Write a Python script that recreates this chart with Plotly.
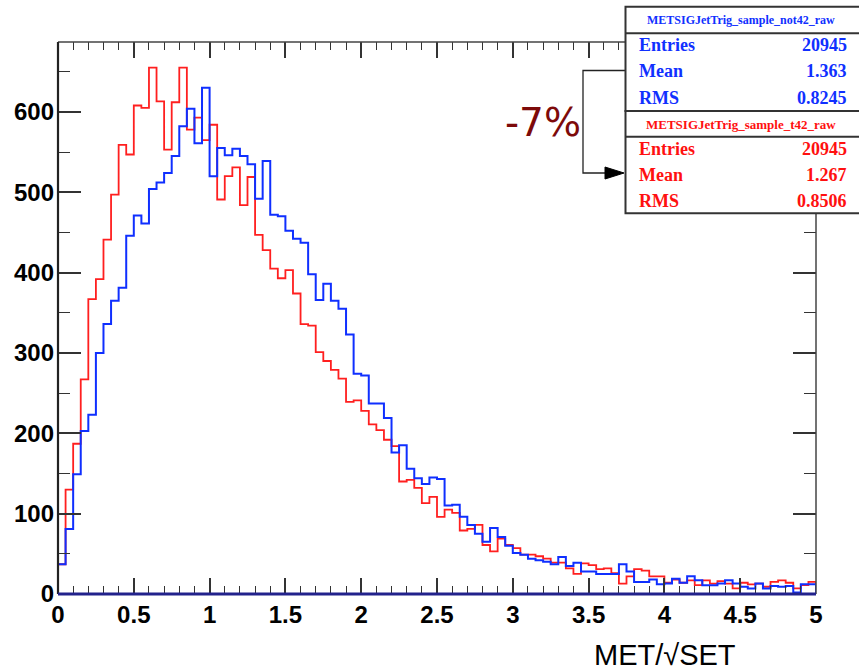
import numpy as np
import plotly.graph_objects as go

# MET/sqrt(SET) histograms, 100 bins from 0 to 5
x_min, x_max, n_bins = 0.0, 5.0, 100

counts_not42 = [
    37, 81, 149, 203, 223, 300, 336, 365, 381, 446,
    471, 461, 504, 512, 524, 545, 582, 604, 561, 630,
    520, 555, 546, 554, 545, 535, 492, 539, 472, 470,
    452, 442, 437, 398, 366, 386, 365, 355, 323, 274,
    272, 237, 237, 219, 176, 185, 156, 144, 137, 145,
    143, 110, 111, 96, 86, 75, 65, 82, 71, 60,
    51, 49, 44, 42, 40, 37, 46, 35, 39, 28,
    28, 25, 25, 25, 37, 28, 15, 15, 18, 12,
    13, 19, 14, 22, 17, 11, 11, 13, 17, 13,
    9, 7, 13, 7, 10, 9, 10, 2, 12, 12,
]

counts_t42 = [
    37, 130, 187, 267, 367, 392, 441, 497, 559, 547,
    608, 605, 655, 613, 553, 612, 655, 578, 593, 565,
    584, 491, 520, 531, 484, 519, 447, 428, 405, 393,
    403, 374, 336, 334, 301, 290, 279, 268, 239, 241,
    228, 211, 204, 192, 184, 140, 142, 132, 113, 121,
    96, 105, 101, 79, 81, 86, 61, 53, 69, 61,
    57, 49, 49, 47, 44, 39, 39, 32, 25, 38,
    36, 31, 32, 26, 13, 22, 31, 29, 22, 22,
    14, 18, 14, 17, 11, 17, 13, 16, 13, 7,
    14, 12, 13, 9, 15, 17, 14, 7, 11, 15,
]

# statistics boxes
names = ["METSIGJetTrig_sample_not42_raw", "METSIGJetTrig_sample_t42_raw"]
stat_labels = ["Entries", "Mean", "RMS"]
stats_not42 = ["20945", "1.363", "0.8245"]
stats_t42 = ["20945", "1.267", "0.8506"]
shift_text = "-7%"
x_title = "MET/\u221aSET"

y_top = 687

BLUE = "#0f2fff"
RED = "#ff1f1f"
TICK = "#333333"

edges = np.linspace(x_min, x_max, n_bins + 1)


def step_xy(counts):
    xs = [edges[0]] + list(edges[:-1]) + [edges[-1], edges[-1]]
    ys = [0] + list(counts) + [counts[-1], 0]
    return xs, ys


fig = go.Figure()
for counts, col, w in [(counts_t42, RED, 1.8), (counts_not42, BLUE, 2.0)]:
    xs, ys = step_xy(counts)
    fig.add_trace(go.Scatter(x=xs, y=ys, mode="lines", line=dict(color=col, width=w, shape="hv"),
                             showlegend=False, hoverinfo="skip"))
# mirrored axes (top / right ticks)
fig.add_trace(go.Scatter(x=[], y=[], xaxis="x2", yaxis="y2", showlegend=False))

L, R, T, B = 58, 816, 42, 594
W, H = 859, 671


def px(x):
    return (x - L) / (R - L)


def py(y):
    return (B - y) / (B - T)


tickfont = dict(family="Liberation Sans", size=24, color="black", weight="bold")
xcommon = dict(range=[x_min, x_max], ticks="inside", ticklen=16, tickwidth=1.5, tickcolor=TICK,
               dtick=0.5, tick0=0, showgrid=False, zeroline=False, showline=False,
               minor=dict(dtick=0.1, tick0=0, ticks="inside", ticklen=8, tickwidth=1.2, tickcolor=TICK,
                          showgrid=False))
ycommon = dict(range=[0, y_top], ticks="inside", ticklen=23, tickwidth=1.5, tickcolor=TICK,
               dtick=100, tick0=0, showgrid=False, zeroline=False, showline=False,
               minor=dict(dtick=50, tick0=0, ticks="inside", ticklen=12, tickwidth=1.2, tickcolor=TICK,
                          showgrid=False))

fig.update_layout(
    width=W, height=H,
    margin=dict(l=L, r=W - R, t=T, b=H - B, pad=0),
    paper_bgcolor="white", plot_bgcolor="white",
    xaxis=dict(**xcommon, tickfont=tickfont, ticklabelstandoff=4),
    yaxis=dict(**ycommon, tickfont=tickfont, ticklabelstandoff=3),
    xaxis2=dict(**xcommon, overlaying="x", side="top", anchor="y2", showticklabels=False),
    yaxis2=dict(**ycommon, overlaying="y", side="right", anchor="x2", showticklabels=False),
)

shapes = []
# frame
shapes.append(dict(type="line", xref="paper", yref="paper", x0=0, x1=1, y0=1, y1=1,
                   line=dict(color="#444444", width=1.5)))
shapes.append(dict(type="line", xref="paper", yref="paper", x0=1, x1=1, y0=0, y1=1,
                   line=dict(color="#444444", width=1.5)))
shapes.append(dict(type="line", xref="paper", yref="paper", x0=0, x1=0, y0=0, y1=1,
                   line=dict(color="#222222", width=2.2)))
shapes.append(dict(type="line", xref="paper", yref="paper", x0=0, x1=1, y0=0, y1=0,
                   line=dict(color="#22228c", width=3)))

# bracket with arrow between the two means
shapes.append(dict(type="path", xref="paper", yref="paper",
                   path=f"M {px(626)} {py(70.5)} L {px(583)} {py(70.5)} L {px(583)} {py(173)} L {px(608)} {py(173)}",
                   line=dict(color="#222222", width=1.3)))
shapes.append(dict(type="path", xref="paper", yref="paper",
                   path=f"M {px(624)} {py(173)} L {px(605)} {py(167)} L {px(605)} {py(179)} Z",
                   fillcolor="black", line=dict(color="black", width=1)))

# stats boxes
box_x0, box_x1 = 625.5, 880
for top, head, bottom in [(6.7, 33.3, 111), (111, 136.7, 213.3)]:
    shapes.append(dict(type="rect", xref="paper", yref="paper", x0=px(box_x0), x1=px(box_x1),
                       y0=py(bottom), y1=py(top), fillcolor="white",
                       line=dict(color="#333333", width=2)))
    shapes.append(dict(type="line", xref="paper", yref="paper", x0=px(box_x0), x1=px(box_x1),
                       y0=py(head), y1=py(head), line=dict(color="#333333", width=2)))

annotations = []
serif = "Liberation Serif"
for name, vals, col, title_y, rows_y, tsize in [
    (names[0], stats_not42, "#1030ff", 19.5, [45, 71.5, 98], 12),
    (names[1], stats_t42, "#ff1010", 124, [148.5, 175, 200.5], 13),
]:
    annotations.append(dict(text=name, x=px(741), y=py(title_y), xref="paper", yref="paper",
                            showarrow=False, xanchor="center", yanchor="middle",
                            font=dict(family=serif, size=tsize, color=col, weight="bold")))
    for lab, val, yy in zip(stat_labels, vals, rows_y):
        annotations.append(dict(text=lab, x=px(637), y=py(yy), xref="paper", yref="paper",
                                showarrow=False, xanchor="left", yanchor="middle",
                                font=dict(family=serif, size=18, color=col, weight="bold")))
        annotations.append(dict(text=val, x=px(849), y=py(yy), xref="paper", yref="paper",
                                showarrow=False, xanchor="right", yanchor="middle",
                                font=dict(family=serif, size=18, color=col, weight="bold")))

annotations.append(dict(text=shift_text, x=px(543), y=py(123), xref="paper", yref="paper",
                        showarrow=False, xanchor="center", yanchor="middle",
                        font=dict(family="DejaVu Sans", size=39, color="#7d0a0a")))
annotations.append(dict(text=x_title, x=px(738), y=py(655), xref="paper", yref="paper",
                        showarrow=False, xanchor="right", yanchor="middle",
                        font=dict(family="Liberation Sans", size=29, color="black")))

fig.update_layout(shapes=shapes, annotations=annotations)
fig.write_html("out.html")
